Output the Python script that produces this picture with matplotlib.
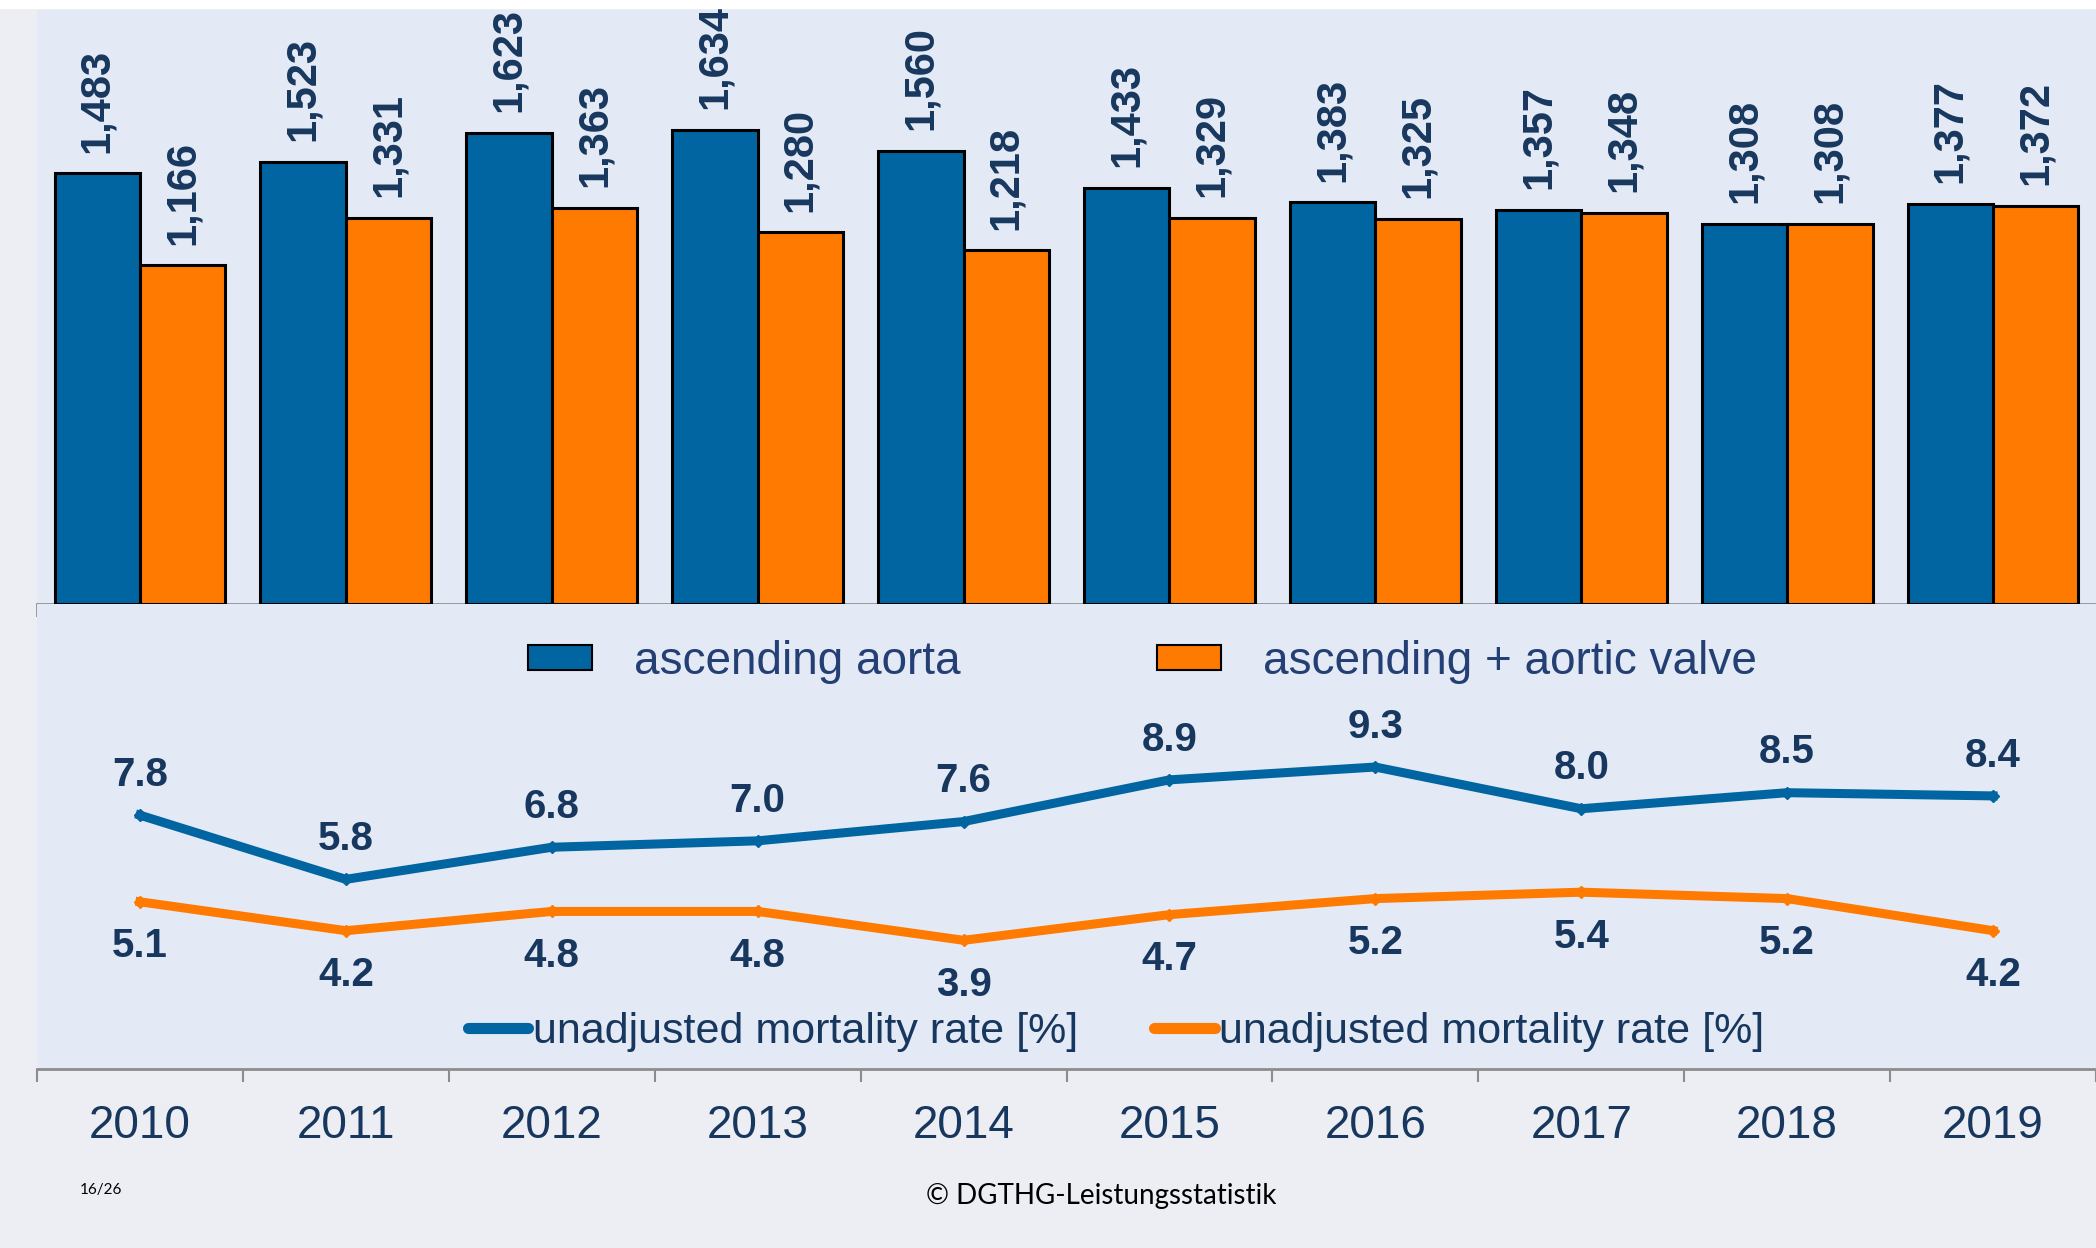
import numpy as np
import matplotlib
matplotlib.use('Agg')
import matplotlib.pyplot as plt
from matplotlib.patches import Patch, Rectangle
from matplotlib.lines import Line2D

plt.rcParams['font.family'] = ['Liberation Sans', 'DejaVu Sans']

years = ['2010', '2011', '2012', '2013', '2014', '2015', '2016', '2017', '2018', '2019']
asc_aorta = [1483, 1523, 1623, 1634, 1560, 1433, 1383, 1357, 1308, 1377]
asc_valve = [1166, 1331, 1363, 1280, 1218, 1329, 1325, 1348, 1308, 1372]
mort_aorta = [7.8, 5.8, 6.8, 7.0, 7.6, 8.9, 9.3, 8.0, 8.5, 8.4]
mort_valve = [5.1, 4.2, 4.8, 4.8, 3.9, 4.7, 5.2, 5.4, 5.2, 4.2]

blue = '#0065A1'
orange = '#FF7A00'
navy = '#17375E'
panel = '#E3E9F5'
outer = '#EDEEF3'
grey = '#8C8C8C'

W, H = 2096, 1248
fig = plt.figure(figsize=(W / 100, H / 100), dpi=100, facecolor=outer)
# white strip on top
fig.patches.append(Rectangle((0, 1 - 9 / H), 1, 9 / H, transform=fig.transFigure,
                             facecolor='white', edgecolor='none', zorder=0))

left = 37 / W
width = 1 - left
ax = fig.add_axes([left, 1 - 604 / H, width, (604 - 10) / H])
ax2 = fig.add_axes([left, 1 - 1069 / H, width, (1069 - 604) / H])

x = np.arange(len(years))
bw = 0.415
xlim = (-0.5, 9.45)

# bars
ax.set_facecolor(panel)
ax.bar(x - bw / 2, asc_aorta, bw, color=blue, edgecolor='black', linewidth=2.2, zorder=3)
ax.bar(x + bw / 2, asc_valve, bw, color=orange, edgecolor='black', linewidth=2.2, zorder=3)
for xi, v in zip(x, asc_aorta):
    ax.annotate('{:,}'.format(v), (xi - bw / 2, v), xytext=(0, 15), textcoords='offset points',
                rotation=90, ha='center', va='bottom', fontsize=30, fontweight='bold', color=navy)
for xi, v in zip(x, asc_valve):
    ax.annotate('{:,}'.format(v), (xi + bw / 2, v), xytext=(0, 15), textcoords='offset points',
                rotation=90, ha='center', va='bottom', fontsize=30, fontweight='bold', color=navy)
ax.set_xlim(*xlim)
ax.set_ylim(0, 2046)
for s in ['top', 'right', 'left']:
    ax.spines[s].set_visible(False)
ax.spines['bottom'].set_color(grey)
ax.spines['bottom'].set_linewidth(1.2)
ax.set_yticks([])
ax.set_xticks(np.arange(-0.5, 10, 1))
ax.set_xticklabels([])
ax.tick_params(axis='x', length=9, width=1.2, color=grey)

# lines
ax2.set_facecolor(panel)
ax2.plot(x, mort_aorta, color=blue, lw=6.5, marker='D', ms=6, zorder=3)
ax2.plot(x, mort_valve, color=orange, lw=6.5, marker='D', ms=6, zorder=3)
for xi, v in zip(x, mort_aorta):
    ax2.annotate('%.1f' % v, (xi, v), xytext=(0, 29), textcoords='offset points',
                 ha='center', va='center', fontsize=29, fontweight='bold', color=navy)
for xi, v in zip(x, mort_valve):
    ax2.annotate('%.1f' % v, (xi, v), xytext=(0, -32), textcoords='offset points',
                 ha='center', va='center', fontsize=29, fontweight='bold', color=navy)
ax2.set_xlim(*xlim)
ax2.set_ylim(-0.11, 14.38)
for s in ['top', 'right', 'left']:
    ax2.spines[s].set_visible(False)
ax2.spines['bottom'].set_color(grey)
ax2.spines['bottom'].set_linewidth(2)
ax2.set_yticks([])
ax2.set_xticks(x)
ax2.set_xticklabels(years, fontsize=33, color=navy)
ax2.set_xticks(np.arange(-0.5, 10, 1), minor=True)
ax2.tick_params(axis='x', which='major', length=0, pad=25)
ax2.tick_params(axis='x', which='minor', length=9, width=1.5, color=grey)

# legends
bar_handles = [Patch(facecolor=blue, edgecolor='black', linewidth=1.5),
               Patch(facecolor=orange, edgecolor='black', linewidth=1.5)]
leg1 = fig.legend(bar_handles, ['ascending aorta', 'ascending + aortic valve'],
                  loc='center', bbox_to_anchor=(0.545, 0.4696), ncol=2, frameon=False,
                  fontsize=33, handlelength=1.4, handleheight=0.46, handletextpad=0.9,
                  columnspacing=4.3, labelcolor='#243F73')

line_handles = [Line2D([], [], color=blue, lw=8, marker='D', ms=5, solid_capstyle='round'),
                Line2D([], [], color=orange, lw=8, marker='D', ms=5, solid_capstyle='round')]
leg2 = fig.legend(line_handles, ['unadjusted mortality rate [%]', 'unadjusted mortality rate [%]'],
                  loc='center', bbox_to_anchor=(0.5325, 0.173), ncol=2, frameon=False,
                  fontsize=31, handlelength=1.4, handletextpad=0.1, columnspacing=1.77,
                  labelcolor=navy)

fig.text(80 / W, 1 - 1190 / H, '16/26', fontsize=11, family=['Lato', 'DejaVu Sans'],
         ha='left', va='center', color='black')
fig.text(1101 / W, 1 - 1196 / H, '\u00a9 DGTHG-Leistungsstatistik', fontsize=20,
         family=['Lato', 'DejaVu Sans'], ha='center', va='center', color='black')

fig.savefig('out.png', dpi=100, facecolor=outer)
